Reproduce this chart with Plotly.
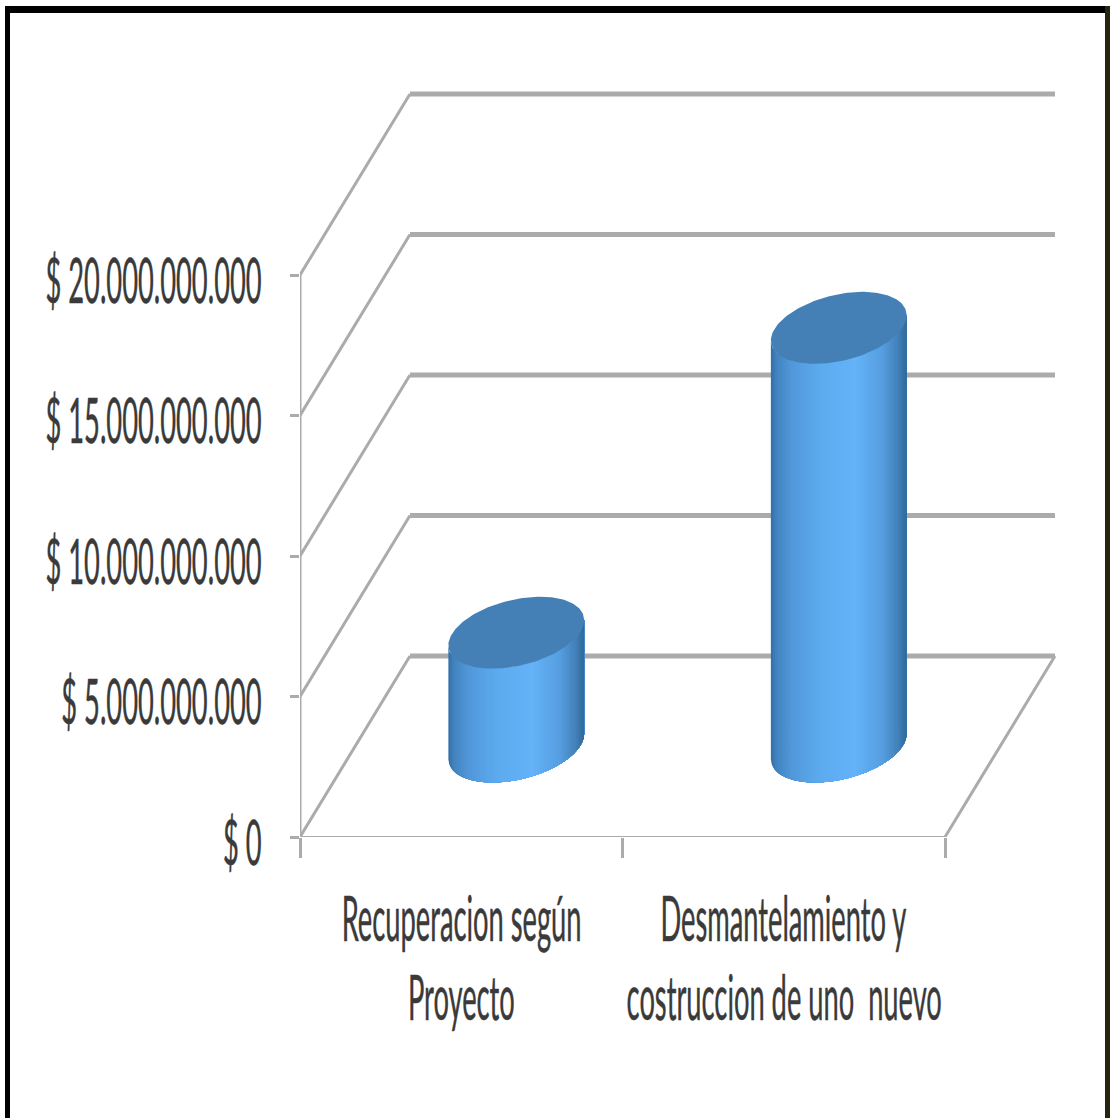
import numpy as np
import plotly.graph_objects as go

# Chart data
category_lines = [["Recuperacion según", "Proyecto"], ["Desmantelamiento y", "costruccion de uno  nuevo"]]
costs = [4.05e9, 14.9e9]
tick_values = [0, 5e9, 10e9, 15e9, 20e9]
tick_labels = ["$ 0", "$ 5.000.000.000", "$ 10.000.000.000", "$ 15.000.000.000", "$ 20.000.000.000"]

W, H = 1114, 1118
M_L, M_R, M_T, M_B = 300, 54, 90, 281

# Oblique projection: how far the back wall sits from the front plane, in axis units
DEPTH_X = 0.341
DEPTH_Y = 6.44e9
X_LO, X_HI = -0.5, 1.5
X_TOP = X_LO + (W - M_L - M_R) / 322.5
Y_TOP = (H - M_B - M_T) / 28.1 * 1e9

# Cylinder footprint, in axis units
CYL_DEPTH = 0.5
CYL_A, CYL_B, CYL_C = 0.197, 0.074, 1.28e9

SHADE_POS = [0.0, 0.04, 0.14, 0.35, 0.62, 0.82, 0.94, 1.0]
SHADE_RGB = [(52, 110, 164), (66, 130, 190), (80, 150, 216), (92, 170, 238),
             (100, 178, 248), (86, 158, 224), (66, 128, 184), (48, 104, 152)]
TOP_COLOR = "#4480b6"
GRID = "#ababab"

fig = go.Figure()


def line(xs, ys, width):
    fig.add_trace(go.Scatter(x=xs, y=ys, mode="lines", line=dict(color=GRID, width=width),
                             cliponaxis=False, hoverinfo="skip", showlegend=False))


# Left wall diagonals and back wall gridlines
for v in tick_values:
    line([X_LO, X_LO + DEPTH_X], [v, v + DEPTH_Y], 3)
    line([X_LO + DEPTH_X, X_HI + DEPTH_X], [v + DEPTH_Y, v + DEPTH_Y], 5)

# Floor front edge, right edge and value axis
line([X_LO, X_HI], [-0.05e9, -0.05e9], 5)
line([X_HI, X_HI + DEPTH_X], [0, DEPTH_Y], 3)
line([X_LO, X_LO], [tick_values[-1], -0.7e9], 3)


def shade(f):
    rgb = [np.interp(f, SHADE_POS, [c[i] for c in SHADE_RGB]) for i in range(3)]
    return "rgb(%d,%d,%d)" % tuple(round(c) for c in rgb)


def cylinder(pos, value, strips=70):
    cx = pos + CYL_DEPTH * DEPTH_X
    y0 = CYL_DEPTH * DEPTH_Y
    y1 = y0 + value
    half = np.hypot(CYL_A, CYL_B)
    t_left = np.pi + np.arctan2(CYL_B, CYL_A)
    t = np.linspace(t_left, t_left + np.pi, 200)  # lower arc, left to right
    low_x = cx + CYL_A * np.cos(t) + CYL_B * np.sin(t)
    low_y = np.sin(t) * CYL_C
    # Painted left to right, each strip reaching the right edge so no seams show
    for e in np.linspace(0, 1, strips, endpoint=False):
        xl = cx - half + 2 * half * e
        keep = low_x >= xl
        xb = np.r_[xl, low_x[keep]]
        yb = np.r_[np.interp(xl, low_x, low_y), low_y[keep]] + y0
        xt = xb[::-1]
        yt = (np.r_[np.interp(xl, low_x, low_y), low_y[keep]] + y1)[::-1]
        fig.add_trace(go.Scatter(x=np.r_[xb, xt], y=np.r_[yb, yt], mode="lines",
                                 fill="toself", fillcolor=shade(e + 0.5 / strips),
                                 line=dict(width=0), cliponaxis=False,
                                 hoverinfo="skip", showlegend=False))
    a = np.linspace(0, 2 * np.pi, 200)
    fig.add_trace(go.Scatter(x=cx + CYL_A * np.cos(a) + CYL_B * np.sin(a),
                             y=y1 + CYL_C * np.sin(a), mode="lines", fill="toself",
                             fillcolor=TOP_COLOR, line=dict(width=0), cliponaxis=False,
                             hoverinfo="skip", showlegend=False))


for i, v in enumerate(costs):
    cylinder(i, v)

FONT = dict(family="Lato", size=62, color="#3a3a3a")

fig.update_layout(
    width=W, height=H, margin=dict(l=M_L, r=M_R, t=M_T, b=M_B, autoexpand=False),
    paper_bgcolor="white", plot_bgcolor="white", showlegend=False,
    xaxis=dict(range=[X_LO, X_TOP], tickmode="array", tickvals=[-0.5, 0.5, 1.5],
               showticklabels=False, showgrid=False, zeroline=False, showline=False,
               ticks="outside", ticklen=20, tickwidth=2.5, tickcolor=GRID, automargin=False),
    yaxis=dict(range=[0, Y_TOP], tickmode="array", tickvals=tick_values, ticktext=tick_labels,
               showgrid=False, zeroline=False, showline=False, ticks="outside", automargin=False,
               ticklabeloverflow="allow",
               ticklen=9, tickwidth=3, tickcolor=GRID, tickfont=FONT, ticklabelstandoff=16),
)

# Category names under the floor, one text per line, centred on each category
LINE_OFFSET = [80, 159]  # pixels below the zero line
for i, lines in enumerate(category_lines):
    for text, off in zip(lines, LINE_OFFSET):
        fig.add_annotation(x=i, xref="x", y=0, yref="y", yshift=-off, text=text, font=FONT,
                           showarrow=False, xanchor="center", yanchor="middle")


# Frame on three sides of the page
def rect(x0, y0, x1, y1, color):
    fig.add_shape(type="rect", xref="paper", yref="paper",
                  x0=(x0 - M_L) / (W - M_L - M_R), x1=(x1 - M_L) / (W - M_L - M_R),
                  y0=1 - (y0 - M_T) / (H - M_T - M_B), y1=1 - (y1 - M_T) / (H - M_T - M_B),
                  fillcolor=color, line=dict(width=0), layer="above")


rect(5, 6, 10, H, "#000000")
rect(5, 6, 1110, 13, "#000000")
rect(1105, 6, 1110, H, "#24240f")

# Narrow the glyphs of the axis texts and shrink the annotation boxes to suit
NARROW = """
document.querySelectorAll('.ytick text, .annotation-text').forEach(function (t) {
  var n = t.getComputedTextLength();
  t.setAttribute('lengthAdjust', 'spacingAndGlyphs');
  t.setAttribute('textLength', n * 0.44);
  if (t.closest('.ytick')) t.setAttribute('dy', '6px');
  t.style.stroke = '#3a3a3a';
  t.style.strokeWidth = '0.5px';
  var g = t.closest('.annotation');
  if (g) {
    g.querySelectorAll('rect').forEach(function (r) {
      var w = parseFloat(r.getAttribute('width'));
      r.setAttribute('x', parseFloat(r.getAttribute('x') || 0) + w * 0.28);
      r.setAttribute('width', w * 0.44);
    });
  }
});
"""

fig.write_html("out.html", post_script=NARROW)
